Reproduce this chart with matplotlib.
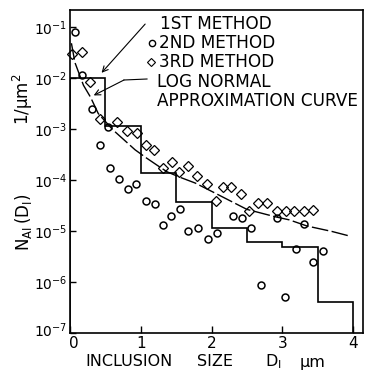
import matplotlib
matplotlib.use('Agg')
from matplotlib import pyplot as plt
from matplotlib.transforms import ScaledTranslation

plt.rcParams['font.family'] = ['DejaVu Sans']
plt.rcParams['mathtext.default'] = 'regular'

# 1st method: histogram steps (edges and level per bin)
step_edges = [0, 0.5, 1.0, 1.5, 2.0, 2.5, 3.0, 3.5, 4.0]
step_vals = [1.02e-2, 1.12e-3, 1.35e-4, 3.7e-5, 1.15e-5, 6.1e-6, 4.9e-6, 4.0e-7]

# 2nd method (circles)
m2_x = [0.07, 0.17, 0.31, 0.54, 0.43, 0.57, 0.69, 0.82, 0.93, 1.07, 1.20, 1.32,
        1.43, 1.55, 1.67, 1.81, 1.95, 2.07, 2.31, 2.43, 2.56, 2.70, 2.93, 3.04,
        3.19, 3.31, 3.44, 3.57]
m2_y = [8.1e-2, 1.15e-2, 2.5e-3, 1.1e-3, 4.9e-4, 1.7e-4, 1.05e-4, 6.6e-5, 8.2e-5,
        3.8e-5, 3.4e-5, 1.3e-5, 2.0e-5, 2.7e-5, 1.0e-5, 1.15e-5, 6.9e-6, 9.2e-6,
        2.0e-5, 1.8e-5, 1.15e-5, 8.7e-7, 1.8e-5, 5.0e-7, 4.5e-6, 1.4e-5, 2.5e-6,
        4.1e-6]

# 3rd method (diamonds)
m3_x = [0.03, 0.17, 0.28, 0.43, 0.67, 0.81, 0.94, 1.07, 1.18, 1.32, 1.44, 1.54,
        1.67, 1.80, 1.93, 2.06, 2.16, 2.28, 2.42, 2.53, 2.66, 2.79, 2.93, 3.05,
        3.17, 3.30, 3.43]
m3_y = [3.0e-2, 3.3e-2, 8.5e-3, 1.6e-3, 1.35e-3, 9.1e-4, 8.3e-4, 4.9e-4, 3.9e-4,
        1.75e-4, 2.25e-4, 1.45e-4, 1.9e-4, 1.2e-4, 8.3e-5, 3.9e-5, 7.4e-5, 7.4e-5,
        5.2e-5, 2.5e-5, 3.5e-5, 3.5e-5, 2.5e-5, 2.5e-5, 2.5e-5, 2.5e-5, 2.6e-5]

# log normal approximation curve (read off)
ln_x = [0.02, 0.07, 0.19, 0.29, 0.40, 0.61, 0.92, 1.08, 1.23, 1.37, 1.54, 1.77,
        2.01, 2.50, 2.90, 3.10, 3.35, 3.70, 3.96]
ln_y = [4.8e-2, 2.0e-2, 7.2e-3, 4.2e-3, 2.0e-3, 9.5e-4, 3.9e-4, 2.7e-4, 1.95e-4,
        1.45e-4, 1.15e-4, 8.7e-5, 5.9e-5, 2.65e-5, 1.9e-5, 1.65e-5, 1.25e-5,
        9.8e-6, 7.9e-6]

ytick_vals = [1e-7, 1e-6, 1e-5, 1e-4, 1e-3, 1e-2, 1e-1]
ytick_labels = ['$10^{-7}$', '$10^{-6}$', '$10^{-5}$', '$10^{-4}$', '$10^{-3}$', '$10^{-2}$', '$10^{-1}$']
xtick_vals = [0, 1, 2, 3, 4]

fig = plt.figure(figsize=(3.65, 3.7), dpi=100)
ax = fig.add_axes([70/365, 37/370, 293/365, 323/370])
ax.set_yscale('log')
ax.set_xlim(0, 4.14)
ax.set_ylim(1e-7, 0.215)

ax.stairs(step_vals, step_edges, baseline=1e-7, color='k', lw=1.2)
ax.plot(ln_x, ln_y, color='k', lw=1.0, linestyle=(0, (12, 2.5)))
ax.plot(m2_x, m2_y, 'o', ms=5, mfc='none', mec='k', mew=1.1, clip_on=False)
ax.plot(m3_x, m3_y, 'D', ms=5.0, mfc='none', mec='k', mew=0.9, clip_on=False)

ax.set_yticks(ytick_vals)
ax.set_yticklabels(ytick_labels)
ax.yaxis.set_minor_locator(matplotlib.ticker.NullLocator())
ax.set_xticks(xtick_vals)
ax.set_xticklabels([str(v) for v in xtick_vals])
ax.tick_params(axis='y', direction='in', length=4, width=1, labelsize=10, pad=2)
ax.tick_params(axis='x', direction='in', length=5, width=1, labelsize=11, pad=2)
for s in ax.spines.values():
    s.set_linewidth(1.2)

# nudge the corner labels apart (10^-7 up a bit, 0 a bit right)
lab = ax.get_yticklabels()[0]
lab.set_transform(lab.get_transform() + ScaledTranslation(0, 2.5/72, fig.dpi_scale_trans))
lab = ax.get_xticklabels()[0]
lab.set_transform(lab.get_transform() + ScaledTranslation(2.5/72, 0, fig.dpi_scale_trans))

# legend written as plain text, like the original figure
fs = 12.2
fig.text(160/365, 1 - 24/370, '1ST METHOD', fontsize=fs, va='center')
fig.text(159/365, 1 - 43/370, '2ND METHOD', fontsize=fs, va='center')
fig.text(159/365, 1 - 62/370, '3RD METHOD', fontsize=fs, va='center')
fig.text(157/365, 1 - 82/370, 'LOG NORMAL', fontsize=fs, va='center')
fig.text(157/365, 1 - 101/370, 'APPROXIMATION CURVE', fontsize=fs, va='center')
ax.plot([152/365], [1 - 43/370], 'o', ms=4.5, mfc='none', mec='k', mew=1,
        transform=fig.transFigure, clip_on=False)
ax.plot([151/365], [1 - 62/370], 'D', ms=4.5, mfc='none', mec='k', mew=0.8,
        transform=fig.transFigure, clip_on=False)

ax.annotate('', xy=(0.42, 1.15e-2), xytext=(147/365, 1 - 22/370),
            textcoords='figure fraction',
            arrowprops=dict(arrowstyle='->', lw=0.8, color='k'))
ax.plot([147/365, 124/365], [1 - 79/370, 1 - 80/370], color='k', lw=0.8,
        transform=fig.transFigure, clip_on=False)
ax.annotate('', xy=(0.30, 4.3e-3), xytext=(124/365, 1 - 80/370),
            textcoords='figure fraction',
            arrowprops=dict(arrowstyle='->', lw=0.8, color='k', shrinkA=0))

# axis labels
fig.text(23/365, 1 - 99/370, '1/μm$^2$', fontsize=12, rotation=90, ha='center', va='center')
fig.text(23/365, 1 - 222/370, '$N_{AI}\\,(D_I)$', fontsize=12, rotation=90, ha='center', va='center')
xl_y = 1 - 362/370
fig.text(85/365, xl_y, 'INCLUSION', fontsize=11.5, va='center')
fig.text(197/365, xl_y, 'SIZE', fontsize=11.5, va='center')
fig.text(265/365, xl_y, '$D_I$', fontsize=11.5, va='center')
fig.text(300/365, xl_y, 'μm', fontsize=11.5, va='center')

plt.savefig('out.png', dpi=100)
